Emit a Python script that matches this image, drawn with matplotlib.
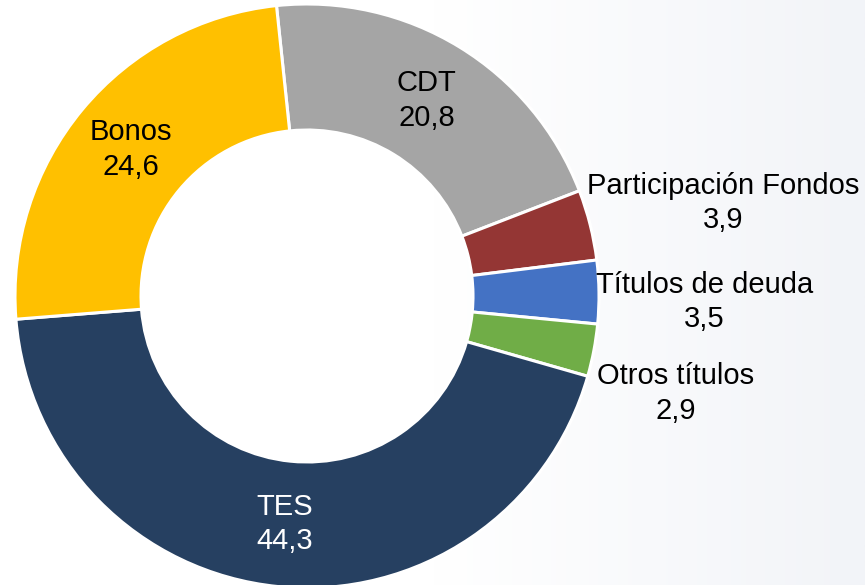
import numpy as np
import matplotlib.pyplot as plt
from matplotlib.colors import LinearSegmentedColormap

plt.rcParams['font.family'] = ['Liberation Sans', 'DejaVu Sans']

categorias = ['CDT', 'Participación Fondos', 'Títulos de deuda', 'Otros títulos', 'TES', 'Bonos']
valores = [20.8, 3.9, 3.5, 2.9, 44.3, 24.6]
colores = ['#A5A5A5', '#943634', '#4472C4', '#70AD47', '#264061', '#FFC000']

# etiquetas dentro del anillo o afuera (desplazamiento en px desde el borde)
dentro = {'CDT': 'black', 'TES': 'white', 'Bonos': 'black'}
afuera = {'Participación Fondos': (-3, 22), 'Títulos de deuda': (-3, -10), 'Otros títulos': (3, -43)}

W, H = 865, 585
fig = plt.figure(figsize=(W / 100, H / 100), dpi=100)

# fondo con un degradado muy suave hacia la derecha
bg = fig.add_axes([0, 0, 1, 1])
bg.set_axis_off()
grad = np.clip((np.linspace(0, 1, 400) - 0.5) / 0.5, 0, 1)
cmap = LinearSegmentedColormap.from_list('fondo', ['#FFFFFF', '#F2F4F8'])
bg.imshow(grad[np.newaxis, :], aspect='auto', cmap=cmap, vmin=0, vmax=1, extent=[0, 1, 0, 1])

ax = fig.add_axes([0, 0, 1, 1])
ax.set_facecolor('none')
cx, cy = 307, H - 296
R = 292
ancho = (292 - 166) / 292

wedges, _ = ax.pie(valores, colors=colores, startangle=96, counterclock=False,
                   center=(cx, cy), radius=R,
                   wedgeprops=dict(width=R * ancho, edgecolor='white', linewidth=2.2))
ax.set_xlim(0, W)
ax.set_ylim(0, H)
ax.set_aspect('equal')
ax.set_axis_off()

for w, nombre, v in zip(wedges, categorias, valores):
    ang = np.deg2rad((w.theta1 + w.theta2) / 2)
    texto = f'{nombre}\n{v:.1f}'.replace('.', ',')
    if nombre in dentro:
        r = R * (1 - ancho / 2)
        ax.text(cx + r * np.cos(ang), cy + r * np.sin(ang), texto, ha='center', va='center',
                fontsize=21, color=dentro[nombre], multialignment='center', linespacing=1.3)
    else:
        dx, dy = afuera[nombre]
        ax.text(cx + R * np.cos(ang) + dx, cy + R * np.sin(ang) + dy, texto, ha='left', va='center',
                fontsize=21, color='black', multialignment='center', linespacing=1.3)

fig.savefig('out.png', dpi=100)
